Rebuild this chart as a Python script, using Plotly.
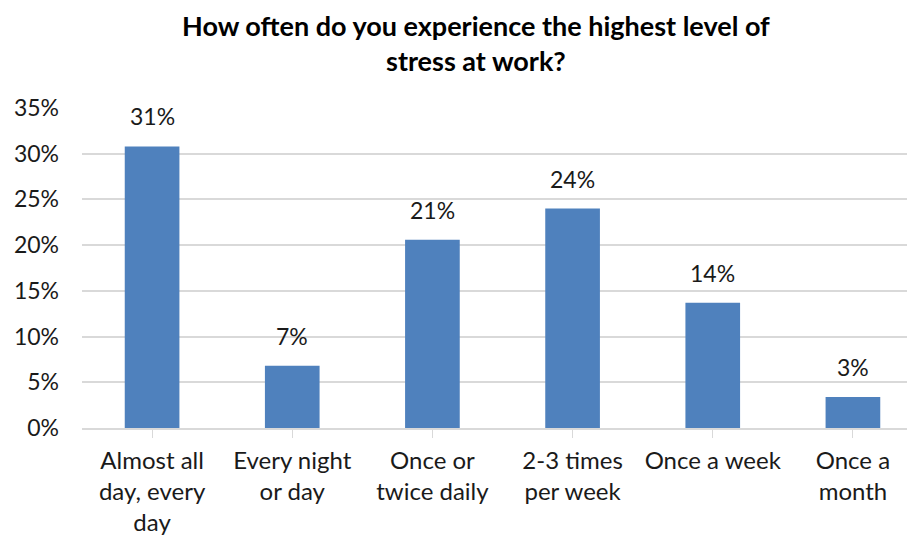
import plotly.graph_objects as go

categories = ["Almost all<br>day, every<br>day", "Every night<br>or day", "Once or<br>twice daily",
              "2-3 times<br>per week", "Once a week", "Once a<br>month"]
values = [0.308, 0.068, 0.206, 0.240, 0.137, 0.034]
y_ticks = [0, 0.05, 0.10, 0.15, 0.20, 0.25, 0.30, 0.35]
title_text = "<b>How often do you experience the highest level of<br>stress at work?</b>"

FONT = "Lato, 'Open Sans', sans-serif"
TXT = "#1a1a1a"
xs = list(range(len(categories)))

fig = go.Figure(go.Bar(
    x=xs, y=values,
    marker=dict(color="#4F81BD", line=dict(width=0)),
    width=0.39,
))

for x, v in zip(xs, values):
    fig.add_annotation(x=x, y=v, text=f"{round(v * 100)}%", showarrow=False,
                       yanchor="bottom", yshift=14,
                       font=dict(family=FONT, size=23, color=TXT))

fig.add_annotation(xref="paper", yref="paper", x=0.468, y=1.312, xanchor="center", yanchor="top",
                   text=title_text, showarrow=False, align="center", borderpad=0,
                   font=dict(family=FONT, size=27, color="#000000"))

fig.update_layout(
    width=915, height=541,
    margin=dict(l=74, r=0, t=100, b=121),
    paper_bgcolor="white", plot_bgcolor="white",
    showlegend=False,
)
fig.update_xaxes(
    tickmode="array", tickvals=xs, ticktext=categories,
    range=[-0.5, 5.5], automargin=False,
    showline=True, linecolor="#d9d9d9", linewidth=1.5,
    ticks="outside", ticklen=8, tickcolor="#d9d9d9", tickson="boundaries",
    showgrid=False, ticklabelstandoff=2,
    tickfont=dict(family=FONT, size=24, color=TXT),
)
fig.update_yaxes(
    range=[0, 0.35], tickvals=y_ticks, tickformat=".0%", automargin=False,
    showgrid=True, gridcolor="#d9d9d9", gridwidth=1.5,
    zeroline=False, showline=False, ticks="",
    ticklabelstandoff=22,
    tickfont=dict(family=FONT, size=23, color=TXT),
)
fig.write_html("out.html")
